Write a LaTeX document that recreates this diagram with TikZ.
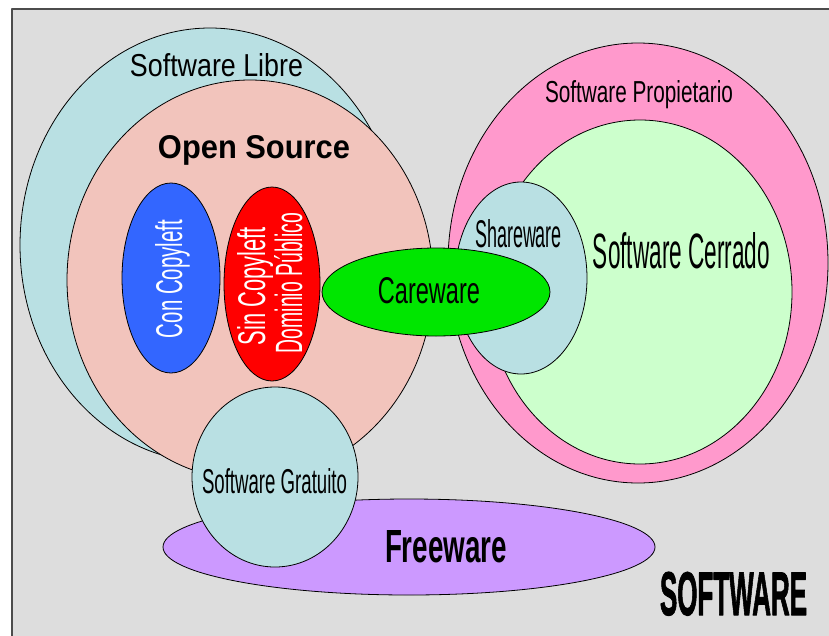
\documentclass[tikz,border=0pt]{standalone}
\usepackage{fontspec}
\setmainfont{Liberation Sans}
\newfontfamily\arialn{Liberation Sans}
\newfontfamily\arialh{Liberation Sans}[FakeBold=2]
\usepackage{graphicx}

\definecolor{fondo}{RGB}{221,221,221}
\definecolor{celeste}{RGB}{185,224,227}
\definecolor{rosa}{RGB}{242,196,188}
\definecolor{azul}{RGB}{51,102,255}
\definecolor{verde}{RGB}{0,230,0}
\definecolor{fucsia}{RGB}{255,153,204}
\definecolor{menta}{RGB}{204,255,204}
\definecolor{lila}{RGB}{204,153,255}

% ancho, alto (pt) y texto
\newcommand{\fit}[3]{\resizebox{#1pt}{#2pt}{\arialn #3}}

\begin{document}
\begin{tikzpicture}[x=1pt,y=-1pt,line join=round,
	conj/.style={draw=black,line width=0.8pt},
	lbl/.style={inner sep=0pt,anchor=base}]
	\useasboundingbox (0,0) rectangle (829,635);
	\fill[white] (0,0) rectangle (829,635);
	\filldraw[fill=fondo,draw=black!70,line width=2pt] (12,9) rectangle (845,650);
	% conjuntos
	\draw[conj,fill=celeste] (210,245) ellipse [x radius=190,y radius=217];
	\draw[conj,fill=rosa] (250,280) ellipse [x radius=183,y radius=200];
	\draw[conj,fill=azul] (171,278) ellipse [x radius=49,y radius=95];
	\draw[conj,fill=red] (272,284) ellipse [x radius=48,y radius=97];
	\draw[conj,fill=fucsia] (638,263) ellipse [x radius=190,y radius=220];
	\draw[conj,fill=menta] (640,292) ellipse [x radius=152,y radius=172];
	\draw[conj,fill=celeste] (521,278) ellipse [x radius=66,y radius=96];
	\draw[conj,fill=verde] (436,292) ellipse [x radius=114,y radius=44];
	\draw[conj,fill=lila] (409,547) ellipse [x radius=246,y radius=48];
	\draw[conj,fill=celeste] (275,477) ellipse [x radius=83,y radius=90];
	% textos
	\node[lbl] (libre) at (216.5,76) {\fit{173}{23}{Software Libre}};
	\node[lbl] (open) at (254,158) {\fit{192}{23}{\bfseries Open Source}};
	\node[lbl,rotate=90,text=white] (con) at (182,279) {\fit{118}{27}{Con Copyleft}};
	\node[lbl,rotate=90,text=white] (sin) at (265,286) {\fit{118}{28}{Sin Copyleft}};
	\node[lbl,rotate=90,text=white] (dominio) at (302,283) {\fit{140}{28}{Dominio Público}};
	\node[lbl] (care) at (429,303) {\fit{102}{26}{Careware}};
	\node[lbl] (share) at (518.5,247) {\fit{87}{28}{Shareware}};
	\node[lbl] (cerrado) at (681.5,268) {\fit{177}{36}{Software Cerrado}};
	\node[lbl] (prop) at (639,102) {\fit{188}{22}{Software Propietario}};
	\node[lbl] (gratis) at (274.5,493) {\fit{145}{25}{Software Gratuito}};
	\node[lbl] (free) at (446,562) {\fit{122}{32}{\bfseries Freeware}};
	\node[lbl] (soft) at (733.5,615) {\resizebox{147pt}{43pt}{\arialh\bfseries SOFTWARE}};
\end{tikzpicture}
\end{document}
